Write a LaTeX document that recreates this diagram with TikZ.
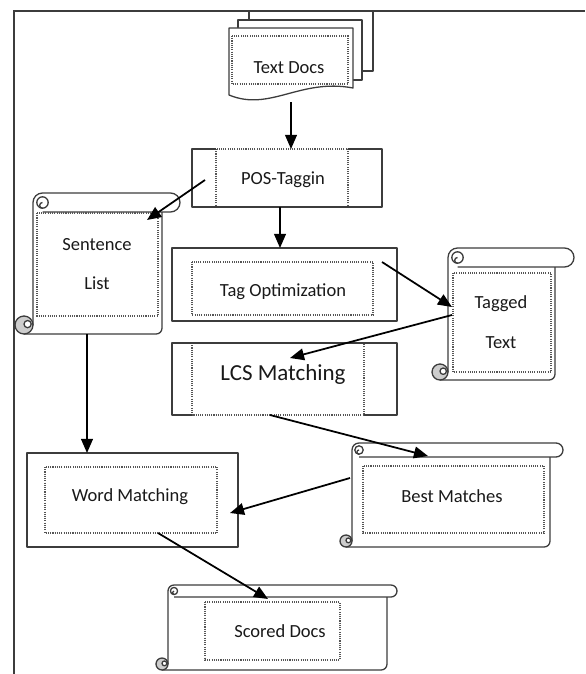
\documentclass[tikz,border=0pt]{standalone}
\usepackage{fontspec}
\setmainfont{Carlito}
\usetikzlibrary{arrows.meta}
\definecolor{Outline}{RGB}{60,60,60}
\definecolor{Dotline}{RGB}{85,85,85}
\definecolor{Curlgray}{RGB}{205,205,205}

\tikzset{
  outline/.style={draw=Outline, line width=1.1pt, line join=round},
  dotbox/.style={draw=Dotline, line width=0.9pt, densely dotted},
  flow/.style={line width=1.5pt, -{Triangle[length=12pt,width=10pt]}},
  boxtext/.style={font=\fontsize{15.8}{34}\selectfont, text=black!90, align=center, inner sep=0pt}
}

% scroll: left, top, body right, bar right, bar bottom, bottom, curl radius
\newcommand{\scrollshape}[7]{%
  \pgfmathsetmacro\scrollr{(#5-#2)/2}
  \draw[outline] (#1,{#6-#7}) -- (#1,{#2+\scrollr}) arc[start angle=180, end angle=270, radius=\scrollr]
    -- ({#4-\scrollr},#2) arc[start angle=-90, end angle=90, radius=\scrollr] -- ({#1+\scrollr},#5);
  \draw[outline, rounded corners=5pt] ({#1-#7},#6) -- (#3,#6) -- (#3,#5);
  \draw[outline, fill=white] ({#1+\scrollr},{#2+\scrollr}) circle[radius={0.6*\scrollr}];
  \draw[outline] ({#1+\scrollr},{#2+1.6*\scrollr}) arc[start angle=90, end angle=270, radius={0.3*\scrollr}];
  \draw[outline, fill=Curlgray] ({#1-#7},{#6-#7}) circle[radius=#7];
  \draw[outline, fill=white] ({#1-0.6*#7},{#6-1.1*#7}) circle[radius={0.4*#7}];
}

\begin{document}
\begin{tikzpicture}[x=0.03cm, y=-0.03cm]
  \useasboundingbox (0,0) rectangle (585,674);
  % frame
  \draw[draw=Outline, line width=1.3pt] (14,674) -- (14,11) -- (585,11);

  % text documents
  \foreach \dx/\dy in {20/17, 9/8}{
    \draw[outline, fill=white] ({229+\dx},{28-\dy}) rectangle ({353+\dx},{88-\dy});
  }
  \draw[outline, fill=white] (229,95) -- (229,28) -- (353,28) -- (353,88) .. controls (300,78) and (270,112) .. cycle;
  \draw[dotbox] (232,36) rectangle (348,84);
  \node[boxtext] (docs) at (289,68) {Text Docs};

  % process boxes
  \draw[dotbox] (216,149) rectangle (348,207);
  \draw[outline] (216,149) -| (192,207) -| (382,149) -- (348,149);
  \node[boxtext] (pos) at (283,180) {POS-Taggin};

  \draw[outline] (172,248) rectangle (397,321);
  \draw[dotbox] (192,262) rectangle (373,315);
  \node[boxtext] (tagopt) at (283,292) {Tag Optimization};

  \draw[dotbox] (192,343) rectangle (364,415);
  \draw[outline] (192,415) -| (172,343) -| (397,415) -- (364,415);
  \node[boxtext, font=\fontsize{19.6}{24}\selectfont] (lcs) at (283,374) {LCS Matching};

  \draw[outline] (27,453) rectangle (238,547);
  \draw[dotbox] (45,467) rectangle (217,533);
  \node[boxtext] (wm) at (130,497) {Word Matching};

  % scrolls
  \scrollshape{33}{193}{162}{180}{212}{334}{9}
  \draw[dotbox] (37,213) rectangle (158,316);
  \node[boxtext] (slist) at (97,264) {Sentence\\List};

  \scrollshape{448}{248}{555}{574}{267}{380}{8}
  \draw[dotbox] (453,273) rectangle (551,372);
  \node[boxtext] (tagged) at (501,322) {Tagged\\Text};

  \scrollshape{352}{443}{550}{563}{457}{547}{6}
  \draw[dotbox] (363,466) rectangle (544,533);
  \node[boxtext] (best) at (452,496) {Best Matches};

  \scrollshape{168}{585}{387}{397}{597}{670}{6}
  \draw[dotbox] (205,602) rectangle (340,660);
  \node[boxtext] (scored) at (280,631) {Scored Docs};

  % arrow ends
  \coordinate (docs-out) at (291,102);   \coordinate (pos-in) at (291,149);
  \coordinate (pos-outl) at (205,180);   \coordinate (slist-in) at (147,220);
  \coordinate (pos-outb) at (280,207);   \coordinate (tagopt-in) at (280,248);
  \coordinate (tagopt-out) at (382,262); \coordinate (tagged-in) at (452,307);
  \coordinate (tagged-out) at (452,315); \coordinate (lcs-in) at (290,358);
  \coordinate (lcs-out) at (270,415);    \coordinate (best-in) at (428,456);
  \coordinate (slist-out) at (87,334);   \coordinate (wm-in) at (87,453);
  \coordinate (best-out) at (350,478);   \coordinate (wm-in2) at (230,513);
  \coordinate (wm-out) at (158,533);     \coordinate (scored-in) at (268,599);

  \foreach \a/\b in {docs-out/pos-in, pos-outl/slist-in, pos-outb/tagopt-in, tagopt-out/tagged-in,
      tagged-out/lcs-in, lcs-out/best-in, slist-out/wm-in, best-out/wm-in2, wm-out/scored-in}{
    \draw[flow] (\a) -- (\b);
  }
\end{tikzpicture}
\end{document}
